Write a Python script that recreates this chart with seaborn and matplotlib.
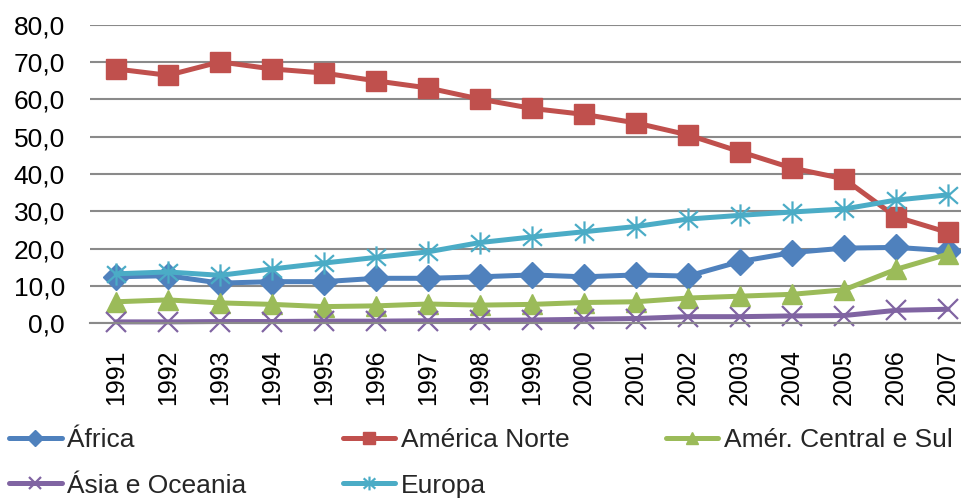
import matplotlib
matplotlib.use("Agg")
import matplotlib.pyplot as plt
from matplotlib.path import Path
from matplotlib.ticker import FuncFormatter, MultipleLocator
import pandas as pd
import seaborn as sns

anos = [str(a) for a in range(1991, 2008)]

africa = [12.4, 12.7, 10.7, 11.1, 11.1, 12.0, 12.0, 12.4, 12.9, 12.4, 12.9, 12.6,
          16.5, 18.9, 20.1, 20.3, 19.4]
america_norte = [68.2, 66.5, 70.1, 68.2, 67.1, 65.0, 63.1, 60.1, 57.6, 56.0, 53.7,
                 50.5, 46.0, 41.6, 38.7, 28.5, 24.3]
amer_central_sul = [5.7, 6.2, 5.4, 5.0, 4.4, 4.6, 5.1, 4.8, 5.0, 5.5, 5.7, 6.7,
                    7.2, 7.7, 8.9, 14.4, 18.5]
asia_oceania = [0.3, 0.3, 0.4, 0.4, 0.5, 0.5, 0.6, 0.7, 0.8, 1.0, 1.2, 1.7,
                1.7, 1.9, 2.0, 3.4, 3.7]
europa = [13.2, 13.7, 12.8, 14.5, 16.1, 17.6, 19.1, 21.6, 23.1, 24.5, 25.9, 27.9,
          28.9, 29.8, 30.6, 33.0, 34.4]

regioes = ["África", "América Norte", "Amér. Central e Sul", "Ásia e Oceania", "Europa"]
series = [africa, america_norte, amer_central_sul, asia_oceania, europa]
cores = ["#4F81BD", "#C0504D", "#9BBB59", "#8064A2", "#4BACC6"]

df = pd.DataFrame({
    "ano": anos * len(regioes),
    "regiao": [r for r in regioes for _ in anos],
    "valor": [v for s in series for v in s],
})

# asterisk marker: vertical bar plus an X
asterisco = Path(
    [(0, -1), (0, 1), (-0.85, -0.75), (0.85, 0.75), (-0.85, 0.75), (0.85, -0.75)],
    [Path.MOVETO, Path.LINETO, Path.MOVETO, Path.LINETO, Path.MOVETO, Path.LINETO],
)

estilos = {
    "África": dict(marker="D", markersize=13, markeredgewidth=1),
    "América Norte": dict(marker="s", markersize=14, markeredgewidth=1),
    "Amér. Central e Sul": dict(marker="^", markersize=15, markeredgewidth=1),
    "Ásia e Oceania": dict(marker="x", markersize=14, markeredgewidth=1.6),
    "Europa": dict(marker=asterisco, markersize=16, markeredgewidth=1.6),
}

sns.set_theme(style="white")
plt.rcParams["font.family"] = ["Liberation Sans", "DejaVu Sans"]

fig = plt.figure(figsize=(9.62, 4.99), dpi=100)
ax = fig.add_axes([90 / 962, 176 / 499, 884 / 962, 298 / 499])

for regiao, cor in zip(regioes, cores):
    sub = df[df["regiao"] == regiao]
    sns.lineplot(data=sub, x="ano", y="valor", ax=ax, color=cor, linewidth=3.6,
                 markeredgecolor=cor, markerfacecolor=cor, label=regiao,
                 sort=False, clip_on=False, **estilos[regiao])

ax.set_xlim(-0.5, len(anos) - 0.5)
ax.set_ylim(0, 80)
ax.yaxis.set_major_locator(MultipleLocator(10))
ax.yaxis.set_major_formatter(FuncFormatter(lambda v, _: f"{v:.1f}".replace(".", ",")))
ax.grid(axis="y", color="#8a8a8a", linewidth=1.5)
ax.set_axisbelow(True)
for lado in ["left", "right", "top"]:
    ax.spines[lado].set_visible(False)
ax.spines["bottom"].set_color("#8a8a8a")
ax.spines["bottom"].set_linewidth(1.5)
ax.set_xlabel("")
ax.set_ylabel("")
ax.tick_params(axis="y", length=0, pad=18, labelsize=19, labelcolor="black")
ax.tick_params(axis="x", length=0, pad=19, labelsize=18, labelcolor="black",
               labelrotation=90)

handles, labels = ax.get_legend_handles_labels()
ax.get_legend().remove()
ordem = [0, 3, 1, 4, 2]
leg = fig.legend([handles[i] for i in ordem], [labels[i] for i in ordem],
                 loc="upper left", bbox_to_anchor=(9 / 962, 1 - 428 / 499), ncol=3,
                 frameon=False, fontsize=19, handlelength=2.0, handletextpad=0.2,
                 columnspacing=3.65, labelspacing=0.82, borderaxespad=0, borderpad=0)
for h in leg.legend_handles:
    h.set_markersize(h.get_markersize() * 0.62)

fig.savefig("out.png", dpi=100)
